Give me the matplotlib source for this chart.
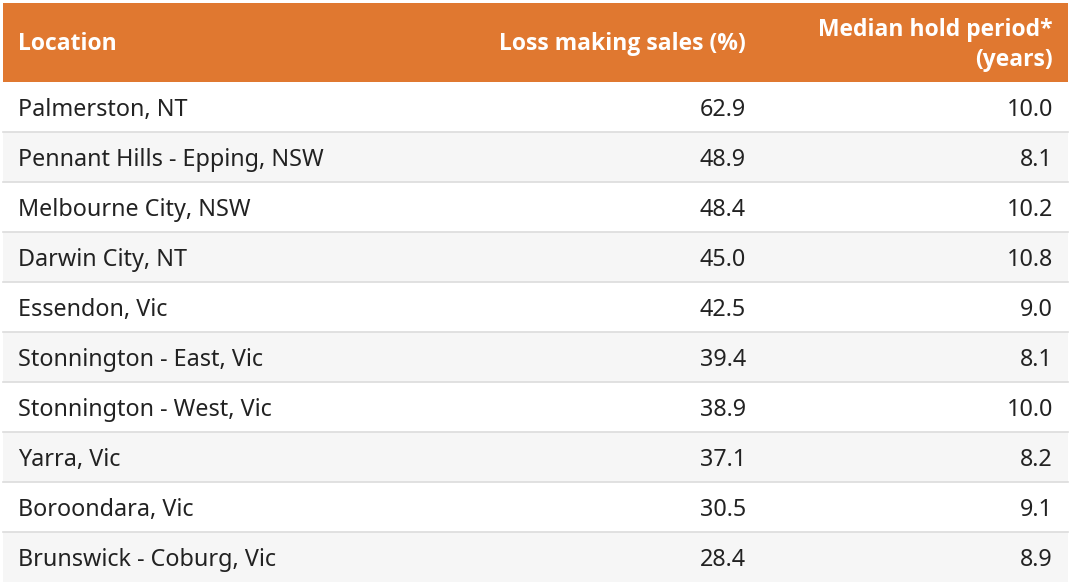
import matplotlib.pyplot as plt
from matplotlib.patches import Rectangle

# --- data ---
locations = ["Palmerston, NT", "Pennant Hills - Epping, NSW", "Melbourne City, NSW",
             "Darwin City, NT", "Essendon, Vic", "Stonnington - East, Vic",
             "Stonnington - West, Vic", "Yarra, Vic", "Boroondara, Vic",
             "Brunswick - Coburg, Vic"]
loss_sales = [62.9, 48.9, 48.4, 45.0, 42.5, 39.4, 38.9, 37.1, 30.5, 28.4]
hold_period = [10.0, 8.1, 10.2, 10.8, 9.0, 8.1, 10.0, 8.2, 9.1, 8.9]
headers = ["Location", "Loss making sales (%)", "Median hold period*\n(years)"]

# --- layout (pixel units) ---
W, H = 1080, 584
left, right = 3, 1068
head_top, head_bot = 3, 82
row_h = 50
orange = "#e07830"
body_font = "Noto Sans"
head_font = "Open Sans"

fig = plt.figure(figsize=(W / 100, H / 100), dpi=100)
ax = fig.add_axes([0, 0, 1, 1])
ax.set_xlim(0, W)
ax.set_ylim(H, 0)
ax.axis("off")

# header
ax.add_patch(Rectangle((left, head_top), right - left, head_bot - head_top,
                       color=orange, lw=0))
hy = (head_top + head_bot) / 2 + 1
hkw = dict(color="white", fontsize=16.5, fontweight="bold", va="center", family=head_font)
ax.text(18, hy, headers[0], ha="left", **hkw)
ax.text(746, hy, headers[1], ha="right", **hkw)
ax.text(1053, hy + 1.5, headers[2], ha="right", multialignment="right",
        linespacing=1.3, **hkw)

# rows
bkw = dict(color="#222222", fontsize=16.8, va="baseline", family=body_font)
for i, (loc, loss, hold) in enumerate(zip(locations, loss_sales, hold_period)):
    top = head_bot + i * row_h
    bg = "white" if i % 2 == 0 else "#f6f6f6"
    ax.add_patch(Rectangle((left, top), right - left, row_h, color=bg, lw=0))
    if i > 0:
        ax.plot([left, right], [top, top], color="#dcdcdc", lw=1.2)
    base = top + 34
    ax.text(18, base, loc, ha="left", **bkw)
    ax.text(746, base, f"{loss:.1f}", ha="right", **bkw)
    ax.text(1053, base, f"{hold:.1f}", ha="right", **bkw)

fig.savefig("out.png", dpi=100)
